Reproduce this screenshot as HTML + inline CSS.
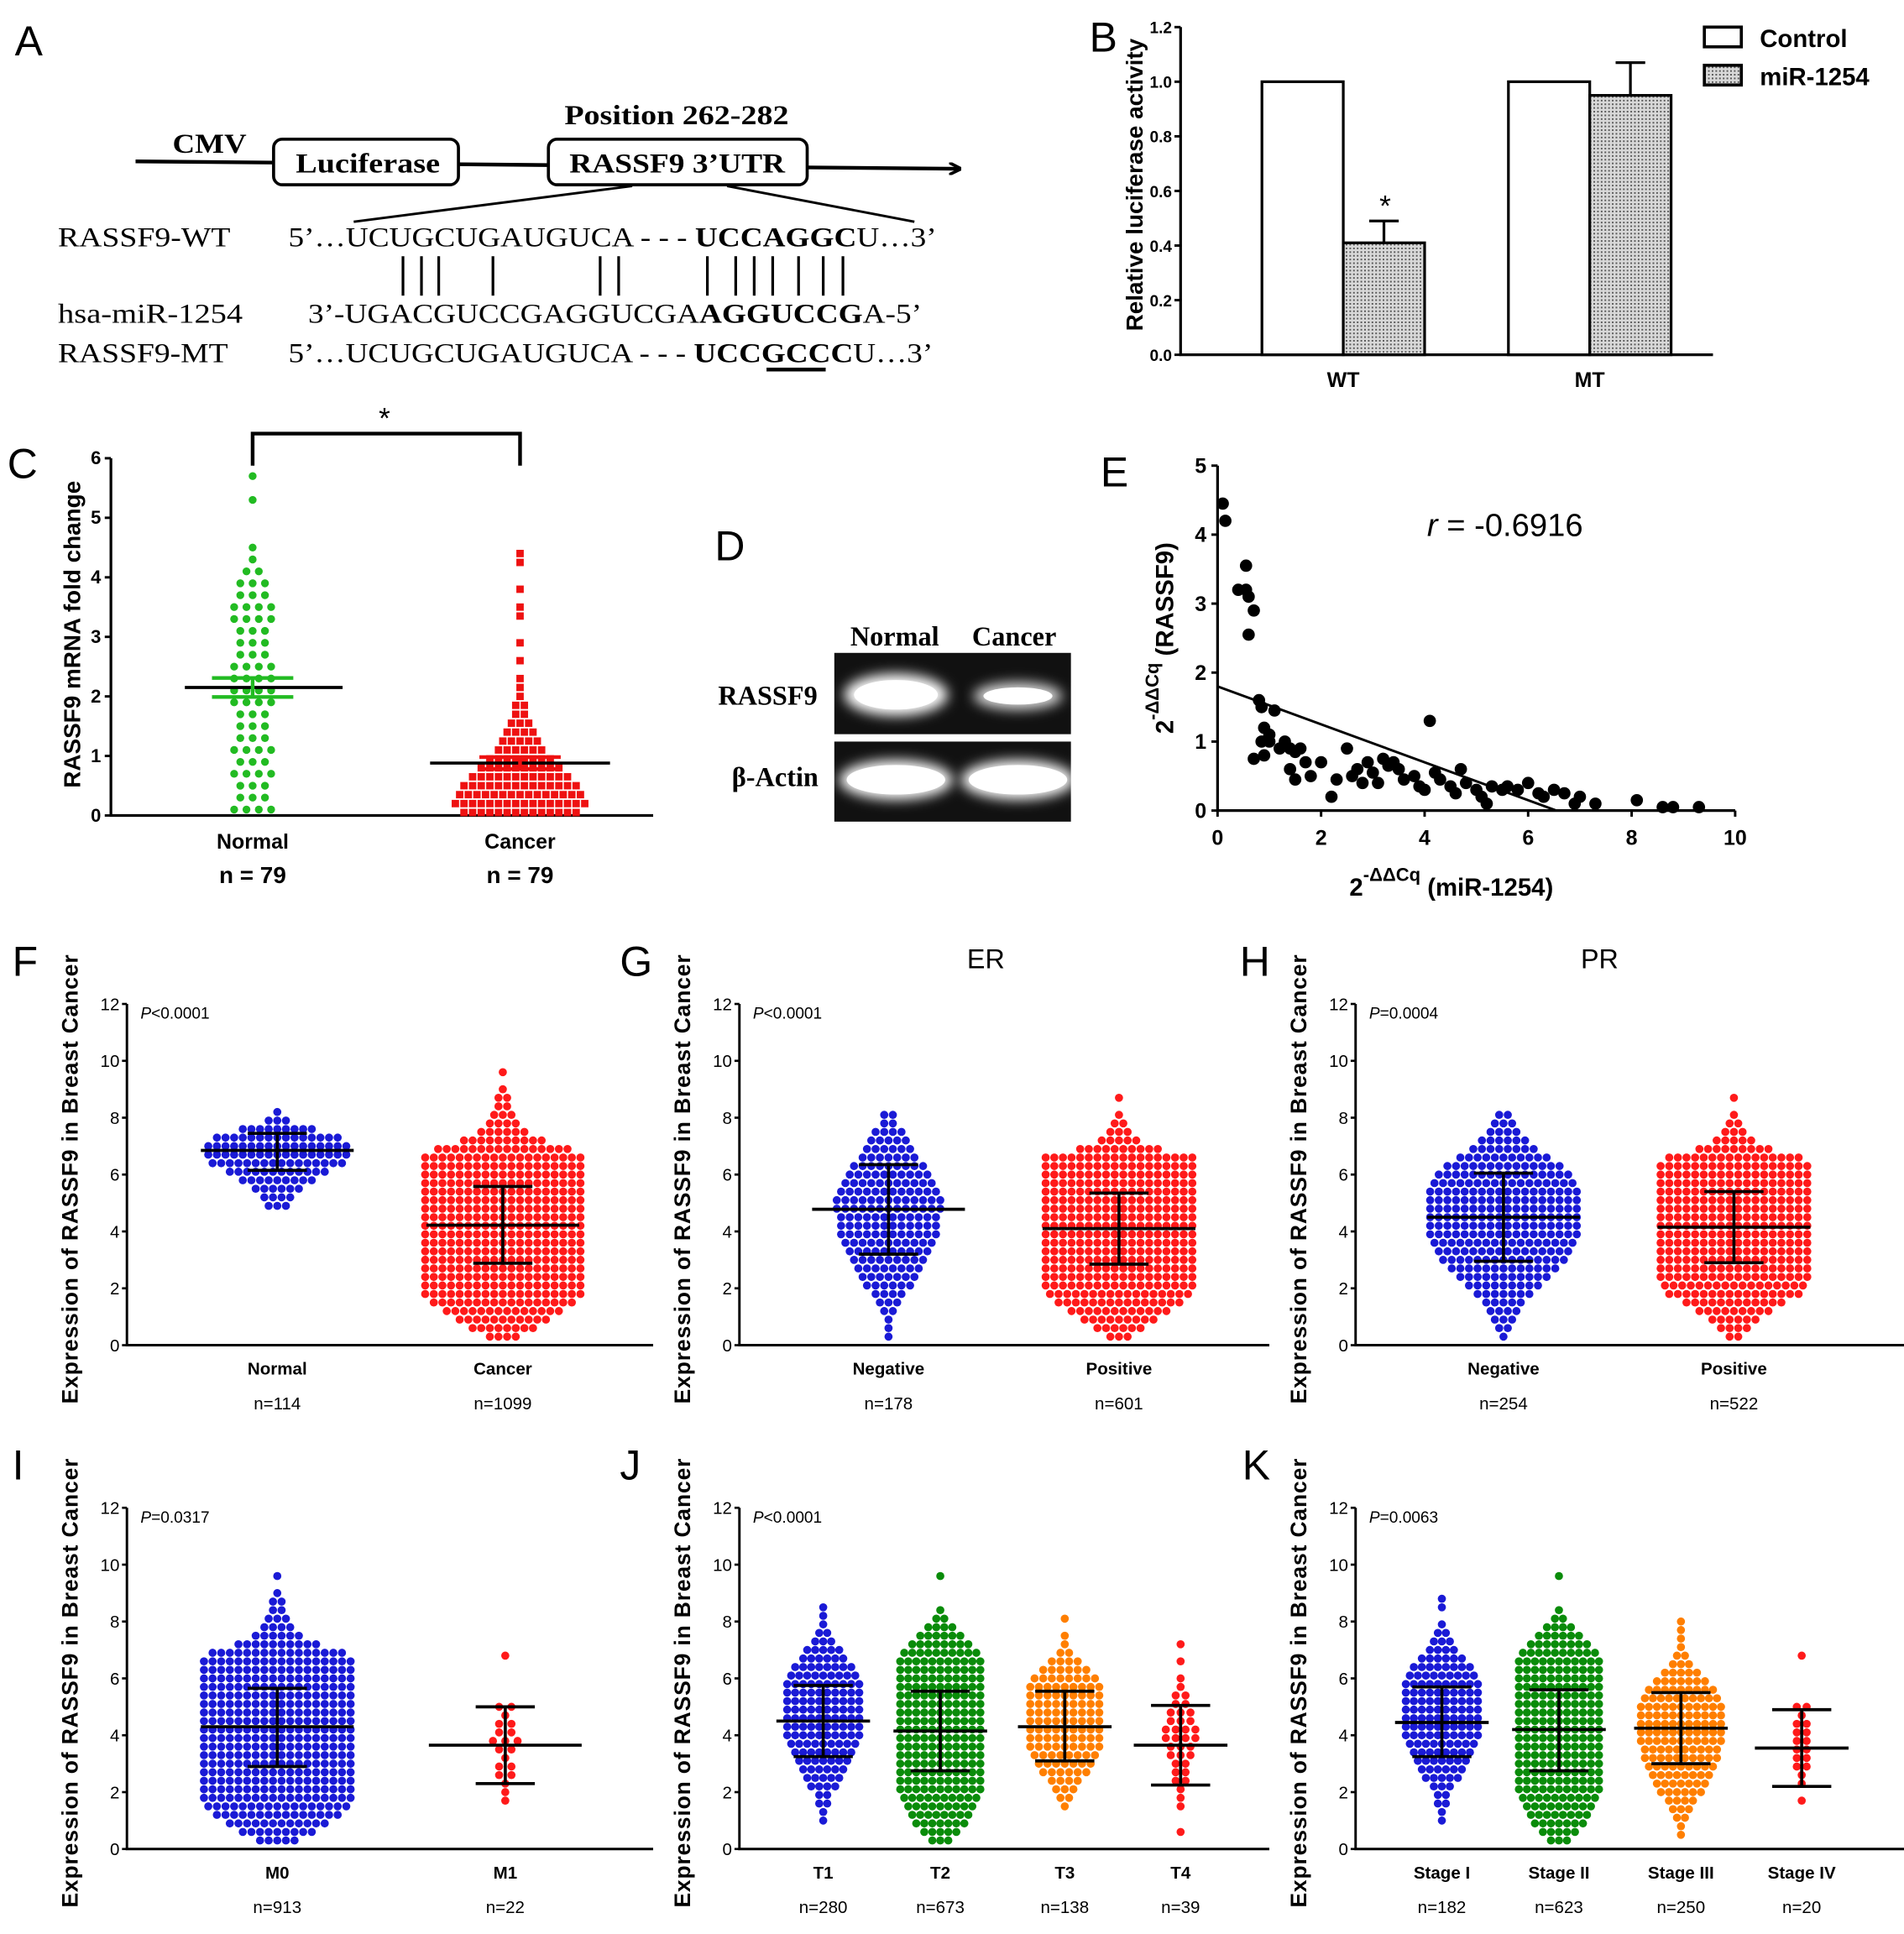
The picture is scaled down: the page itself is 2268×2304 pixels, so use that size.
<!DOCTYPE html>
<html><head><meta charset="utf-8"><style>
html,body{margin:0;padding:0;background:#fff}
svg{display:block}
text{font-family:"Liberation Sans",sans-serif}
.ser{font-family:"Liberation Serif",serif}
</style></head><body>
<svg id="fig" xmlns="http://www.w3.org/2000/svg" width="2268" height="2304" viewBox="0 0 1545 1570" preserveAspectRatio="none">
<defs>
<pattern id="dots" width="3" height="3" patternUnits="userSpaceOnUse"><rect width="3" height="3" fill="#d8d8d8"/><rect width="1.3" height="1.3" fill="#555"/></pattern>
<filter id="blur" x="-30%" y="-60%" width="160%" height="220%"><feGaussianBlur stdDeviation="5"/></filter>
<marker id="arr" markerWidth="10" markerHeight="10" refX="8" refY="5" orient="auto" markerUnits="userSpaceOnUse"><path d="M0,0 L10,5 L0,10" fill="none" stroke="#000" stroke-width="2.5"/></marker>
</defs>
<!-- Panel A -->
<g>
<text x="12" y="45" font-size="34">A</text>
<line x1="110" y1="131" x2="778" y2="137" stroke="#000" stroke-width="3" marker-end="url(#arr)"/>
<text class="ser" x="140" y="124" font-size="22" font-weight="bold" textLength="60" lengthAdjust="spacingAndGlyphs">CMV</text>
<rect x="222" y="113" width="150" height="37" rx="7" fill="#fff" stroke="#000" stroke-width="2.5"/>
<text class="ser" x="240" y="140" font-size="22" font-weight="bold" textLength="117" lengthAdjust="spacingAndGlyphs">Luciferase</text>
<rect x="445" y="113" width="210" height="37" rx="7" fill="#fff" stroke="#000" stroke-width="2.5"/>
<text class="ser" x="462" y="140" font-size="22" font-weight="bold" textLength="175" lengthAdjust="spacingAndGlyphs">RASSF9 3’UTR</text>
<text class="ser" x="458" y="101" font-size="22" font-weight="bold" textLength="182" lengthAdjust="spacingAndGlyphs">Position 262-282</text>
<line x1="513" y1="151" x2="287" y2="180" stroke="#000" stroke-width="2"/>
<line x1="590" y1="151" x2="742" y2="180" stroke="#000" stroke-width="2"/>
<g fill="#000">
<text class="ser" x="47" y="200" font-size="22" textLength="140" lengthAdjust="spacingAndGlyphs">RASSF9-WT</text>
<text class="ser" x="234" y="200" font-size="22" textLength="526" lengthAdjust="spacingAndGlyphs">5’…UCUGCUGAUGUCA - - - <tspan font-weight="bold">UCCAGGC</tspan>U…3’</text>
<text class="ser" x="47" y="262" font-size="22" textLength="150" lengthAdjust="spacingAndGlyphs">hsa-miR-1254</text>
<text class="ser" x="250" y="262" font-size="22" textLength="498" lengthAdjust="spacingAndGlyphs">3’-UGACGUCCGAGGUCGA<tspan font-weight="bold">AGGUCCG</tspan>A-5’</text>
<text class="ser" x="47" y="294" font-size="22" textLength="138" lengthAdjust="spacingAndGlyphs">RASSF9-MT</text>
<text class="ser" x="234" y="294" font-size="22" textLength="523" lengthAdjust="spacingAndGlyphs">5’…UCUGCUGAUGUCA - - - <tspan font-weight="bold">UCCGCCC</tspan>U…3’</text>
</g>
<g stroke="#000" stroke-width="2.2">
<line x1="327" y1="208" x2="327" y2="240"/><line x1="342" y1="208" x2="342" y2="240"/><line x1="356" y1="208" x2="356" y2="240"/><line x1="400" y1="208" x2="400" y2="240"/><line x1="487" y1="208" x2="487" y2="240"/><line x1="502" y1="208" x2="502" y2="240"/><line x1="574" y1="208" x2="574" y2="240"/><line x1="597" y1="208" x2="597" y2="240"/><line x1="612" y1="208" x2="612" y2="240"/><line x1="627" y1="208" x2="627" y2="240"/><line x1="648" y1="208" x2="648" y2="240"/><line x1="668" y1="208" x2="668" y2="240"/><line x1="684" y1="208" x2="684" y2="240"/>
</g>
<line x1="622" y1="300" x2="670" y2="300" stroke="#000" stroke-width="3"/>
</g>
<!-- Panel D -->
<g>
<text x="580" y="455" font-size="34">D</text>
<text class="ser" x="726" y="524" font-size="22" font-weight="bold" text-anchor="middle">Normal</text>
<text class="ser" x="823" y="524" font-size="22" font-weight="bold" text-anchor="middle">Cancer</text>
<text class="ser" x="623" y="572" font-size="22" font-weight="bold" text-anchor="middle">RASSF9</text>
<text class="ser" x="629" y="638" font-size="22" font-weight="bold" text-anchor="middle">β-Actin</text>
<rect x="677" y="530" width="192" height="66" fill="#111"/>
<rect x="677" y="602" width="192" height="65" fill="#111"/>
<ellipse cx="727" cy="564" rx="42" ry="17" fill="#fff" filter="url(#blur)"/>
<ellipse cx="727" cy="564" rx="34" ry="12" fill="#fff"/>
<ellipse cx="826" cy="565" rx="36" ry="11" fill="#ddd" filter="url(#blur)"/>
<ellipse cx="826" cy="565" rx="28" ry="7" fill="#fff"/>
<ellipse cx="727" cy="633" rx="46" ry="16" fill="#fff" filter="url(#blur)"/>
<ellipse cx="727" cy="633" rx="40" ry="12" fill="#fff"/>
<ellipse cx="826" cy="633" rx="46" ry="16" fill="#fff" filter="url(#blur)"/>
<ellipse cx="826" cy="633" rx="40" ry="12" fill="#fff"/>
</g>
<g id="dyn"></g>
</svg>
<script>
// ---------- Panel B data ----------
const bGroups = ['WT','MT'];
const bControl = [1.0, 1.0];
const bMir = [0.41, 0.95];
const bMirErr = [0.08, 0.12];
const bTicks = [0,0.2,0.4,0.6,0.8,1.0,1.2];
// ---------- Panel C data ----------
const cGroups = ['Normal','Cancer'];
const cN = ['n = 79','n = 79'];
const cMean = [2.15, 0.88];
const cSem = [0.16, 0.1];
const cNormalStart = 0.1;
const cNormalCounts = [4,3,3,4,3,4,3,3,3,4,4,4,4,3,3,3,4,4,3,3,2,1,1,0,0,0,1,0,1];
const cCancerStart = 0.05;
const cCancerCounts = [14,16,15,14,12,10,8,6,5,4,3,2,2,1,1,1,0,1,0,1,0,0,1,1,0,1,0,0,1,1];
const cTicks = [0,1,2,3,4,5,6];
// ---------- Panel E data ----------
const eX = [0.1,0.15,0.4,0.55,0.55,0.7,0.6,0.6,0.8,0.85,0.9,1.0,1.1,0.85,0.9,1.0,1.2,1.3,1.4,1.5,1.6,1.4,1.7,1.8,2.0,2.2,1.5,2.5,2.6,2.7,2.8,2.9,3.0,3.2,3.3,3.4,3.5,3.6,3.8,3.9,4.0,4.1,4.2,4.3,4.5,4.6,4.7,4.8,5.0,5.1,5.2,5.3,5.5,5.6,5.8,6.0,6.2,6.3,6.5,6.7,6.9,7.0,7.3,8.1,8.6,8.8,9.3,0.7,2.3,3.1];
const eY = [4.45,4.2,3.2,3.2,3.55,2.9,3.1,2.55,1.6,1.5,1.2,1.0,1.45,1.0,0.8,1.1,0.9,1.0,0.9,0.85,0.9,0.6,0.7,0.5,0.7,0.2,0.45,0.9,0.5,0.6,0.4,0.7,0.55,0.75,0.65,0.7,0.6,0.45,0.5,0.35,0.3,1.3,0.55,0.45,0.35,0.25,0.6,0.4,0.3,0.2,0.1,0.35,0.3,0.35,0.3,0.4,0.25,0.2,0.3,0.25,0.1,0.2,0.1,0.15,0.05,0.05,0.05,0.75,0.45,0.4];
const eFit = [1.8, -0.275];
const eXTicks = [0,2,4,6,8,10];
const eYTicks = [0,1,2,3,4,5];
// ---------- Panels F-K data ----------
const swTicks = [0,2,4,6,8,10,12];
const fCats = ['Normal','Cancer']; const fN = ['n=114','n=1099'];
const fStart = [4.9, 0.3];
const fCounts0 = [3,4,6,9,12,16,17,17,15,9,3,1];
const fCounts1 = [4,8,11,14,17,19,19,19,19,19,19,19,19,19,19,19,19,19,19,19,19,19,16,10,6,4,3,2,2,1,0,1];
const fMean = [6.85, 4.22]; const fLo = [6.15, 2.88]; const fHi = [7.45, 5.58];
const gCats = ['Negative','Positive']; const gN = ['n=178','n=601'];
const gStart = [0.3, 0.3];
const gCounts0 = [1,1,1,2,3,4,6,7,8,9,10,11,12,12,12,13,13,12,11,10,9,7,6,5,4,2,2];
const gCounts1 = [3,6,9,12,15,17,18,18,18,18,18,18,18,18,18,18,18,18,18,18,18,18,10,5,3,2,1,0,1];
const gMean = [4.78, 4.1]; const gLo = [3.2, 2.85]; const gHi = [6.35, 5.35];
const hCats = ['Negative','Positive']; const hN = ['n=254','n=522'];
const hStart = [0.3, 0.3];
const hCounts0 = [1,2,3,4,5,7,9,11,13,15,16,17,18,18,18,18,18,18,17,16,14,11,8,6,4,3,2];
const hCounts1 = [2,4,6,9,12,16,17,18,18,18,18,18,18,18,18,18,18,18,18,18,18,16,9,5,3,2,1,0,1];
const hMean = [4.5, 4.15]; const hLo = [2.95, 2.9]; const hHi = [6.05, 5.4];
const iCats = ['M0','M1']; const iN = ['n=913','n=22'];
const iStart = [0.3, 1.7];
const iCounts0 = [5,9,12,15,17,18,18,18,18,18,18,18,18,18,18,18,18,18,18,18,18,18,16,10,6,4,3,2,2,1,0,1];
const iCounts1 = [1,1,1,2,2,1,2,3,2,2,1,2,0,0,0,0,0,1];
const iMean = [4.3, 3.65]; const iLo = [2.9, 2.3]; const iHi = [5.65, 5.0];
const jCats = ['T1','T2','T3','T4']; const jN = ['n=280','n=673','n=138','n=39'];
const jStart = [1.0, 0.3, 1.5, 0.6];
const jCounts0 = [1,1,2,2,4,5,6,7,8,9,10,10,10,10,10,10,10,9,8,6,5,3,2,1,1,1];
const jCounts1 = [3,5,7,8,9,10,11,11,11,11,11,11,11,11,11,11,11,11,11,11,11,11,10,8,6,4,2,1,0,0,0,1];
const jCounts2 = [1,2,3,4,6,7,8,9,9,9,9,9,9,9,9,8,6,4,2,1,1,0,1];
const jCounts3 = [1,0,0,1,1,1,2,2,2,3,3,4,4,3,3,2,2,1,1,0,1,0,1];
const jMean = [4.5, 4.15, 4.3, 3.65]; const jLo = [3.25, 2.75, 3.1, 2.25]; const jHi = [5.75, 5.55, 5.55, 5.05];
const kCats = ['Stage I','Stage II','Stage III','Stage IV']; const kN = ['n=182','n=623','n=250','n=20'];
const kStart = [1.0, 0.3, 0.5, 1.7];
const kCounts0 = [1,1,2,2,3,5,6,7,8,9,10,10,10,10,10,10,10,9,8,6,4,3,2,1,0,1,1];
const kCounts1 = [3,5,7,8,9,10,11,11,11,11,11,11,11,11,11,11,11,11,11,11,11,11,10,8,6,4,2,1,0,0,0,1];
const kCounts2 = [1,1,2,3,4,6,7,8,9,10,10,11,11,11,11,11,10,9,7,5,3,2,1,1,1,1];
const kCounts3 = [1,0,1,1,2,2,2,2,2,2,1,2,0,0,0,0,0,1];
const kMean = [4.45, 4.2, 4.25, 3.55]; const kLo = [3.25, 2.75, 3.0, 2.2]; const kHi = [5.7, 5.6, 5.5, 4.9];

const NS='http://www.w3.org/2000/svg';
const root=document.getElementById('dyn');
function mk(tag,attrs,parent){const e=document.createElementNS(NS,tag);for(const k in attrs)e.setAttribute(k,attrs[k]);(parent||root).appendChild(e);return e;}
function txt(s,attrs,parent){const e=mk('text',attrs,parent);e.textContent=s;return e;}

// ===== Panel B =====
(function(){
  const g=mk('g',{});
  
  
  const x0=958,xEnd=1390,yB=288,yT=22;
  const y=v=>yB-(v/1.2)*(yB-yT);
  const lb=txt('B',{x:884,y:42,'font-size':34},g);
  
  
  const ax=mk('path',{d:`M${x0},${yT} V${yB} H${xEnd}`,fill:'none',stroke:'#000','stroke-width':2.2},g);
  
  
  bTicks.forEach(t=>{
    mk('line',{x1:x0-5,x2:x0,y1:y(t),y2:y(t),stroke:'#000','stroke-width':2},g);
    const tl=txt(t.toFixed(1),{x:x0-7,y:y(t)+5,'font-size':13,'font-weight':'bold','text-anchor':'end'},g);
    
    
  });
  const yt=txt('Relative luciferase activity',{x:0,y:0,'font-size':19,'font-weight':'bold','text-anchor':'middle',transform:`translate(927,150) rotate(-90)`},g);
  
  
  const centers=[1090,1290], bw=66;
  bGroups.forEach((name,i)=>{
    const c=centers[i];
    const b1=mk('rect',{x:c-bw,y:y(bControl[i]),width:bw,height:yB-y(bControl[i]),fill:'#fff',stroke:'#000','stroke-width':2.2},g);
    
    
    const top=y(bMir[i]+bMirErr[i]);
    mk('line',{x1:c+bw/2,x2:c+bw/2,y1:y(bMir[i]),y2:top,stroke:'#000','stroke-width':2.2},g);
    mk('line',{x1:c+bw/2-12,x2:c+bw/2+12,y1:top,y2:top,stroke:'#000','stroke-width':2.2},g);
    const b2=mk('rect',{x:c,y:y(bMir[i]),width:bw,height:yB-y(bMir[i]),fill:'url(#dots)',stroke:'#000','stroke-width':2.2},g);
    
    
    const xl=txt(name,{x:c,y:314,'font-size':17,'font-weight':'bold','text-anchor':'middle'},g);
    
    
  });
  const st=txt('*',{x:1124,y:y(bMir[0]+bMirErr[0])-4,'font-size':24,'text-anchor':'middle'},g);
  
  
  const l1=mk('rect',{x:1383,y:22,width:30,height:16,fill:'#fff',stroke:'#000','stroke-width':2.5},g);
  
  
  const lt1=txt('Control',{x:1428,y:38,'font-size':20,'font-weight':'bold'},g);
  
  
  const l2=mk('rect',{x:1383,y:53,width:30,height:16,fill:'url(#dots)',stroke:'#000','stroke-width':2.5},g);
  
  
  const lt2=txt('miR-1254',{x:1428,y:69,'font-size':20,'font-weight':'bold'},g);
  
  
})();

// ===== Panel C =====
(function(){
  const g=mk('g',{});
  
  
  const x0=90,xEnd=530,yB=662,yT=372;
  const y=v=>yB-(v/6)*(yB-yT);
  const lb=txt('C',{x:6,y:388,'font-size':34},g);
  
  
  const ax=mk('path',{d:`M${x0},${yT} V${yB} H${xEnd}`,fill:'none',stroke:'#000','stroke-width':2.2},g);
  
  
  cTicks.forEach(t=>{
    mk('line',{x1:x0-5,x2:x0,y1:y(t),y2:y(t),stroke:'#000','stroke-width':2},g);
    const tl=txt(String(t),{x:x0-8,y:y(t)+5,'font-size':15,'font-weight':'bold','text-anchor':'end'},g);
    
    
  });
  const yt=txt('RASSF9 mRNA fold change',{x:0,y:0,'font-size':19,'font-weight':'bold','text-anchor':'middle',transform:'translate(65,515) rotate(-90)'},g);
  
  
  const centers=[205,422];
  const cols=['#22bb22','#ee1111'];
  cNormalCounts.forEach((n,i)=>{const v=cNormalStart+i*0.2;for(let k=0;k<n;k++){
    const d=mk('circle',{cx:centers[0]+(k-(n-1)/2)*10,cy:y(v),r:3.2,fill:cols[0]},g);
    
    }});
  cCancerCounts.forEach((n,i)=>{const v=cCancerStart+i*0.15;for(let k=0;k<n;k++){
    const d=mk('rect',{x:centers[1]+(k-(n-1)/2)*7-3,y:y(v)-3,width:6,height:6,fill:cols[1]},g);
    
    }});
  cGroups.forEach((name,i)=>{
    const c=centers[i];
    const m=mk('line',{x1:c-55-(i?18:0),x2:c+73,y1:y(cMean[i]),y2:y(cMean[i]),stroke:'#000','stroke-width':2.5},g);
    
    
    [cMean[i]-cSem[i],cMean[i]+cSem[i]].forEach(v=>{mk('line',{x1:c-33,x2:c+33,y1:y(v),y2:y(v),stroke:cols[i],'stroke-width':3},g);});
    mk('line',{x1:c,x2:c,y1:y(cMean[i]-cSem[i]),y2:y(cMean[i]+cSem[i]),stroke:cols[i],'stroke-width':3},g);
    const xl=txt(name,{x:c,y:689,'font-size':17,'font-weight':'bold','text-anchor':'middle'},g);
    
    
    const nl=txt(cN[i],{x:c,y:717,'font-size':19,'font-weight':'bold','text-anchor':'middle'},g);
    
    
  });
  const br=mk('path',{d:`M${centers[0]},378 V352 H${centers[1]} V378`,fill:'none',stroke:'#000','stroke-width':3},g);
  
  
  const st=txt('*',{x:312,y:348,'font-size':24,'text-anchor':'middle'},g);
  
  
})();

// ===== Panel E =====
(function(){
  const g=mk('g',{});
  
  
  const x0=988,x1=1408,yB=658,yT=378;
  const X=v=>x0+v/10*(x1-x0), Y=v=>yB-v/5*(yB-yT);
  const lb=txt('E',{x:893,y:395,'font-size':34},g);
  
  
  const ax=mk('path',{d:`M${x0},${yT} V${yB} H${x1}`,fill:'none',stroke:'#000','stroke-width':2.2},g);
  
  
  eYTicks.forEach(t=>{mk('line',{x1:x0-5,x2:x0,y1:Y(t),y2:Y(t),stroke:'#000','stroke-width':2},g);
    const tl=txt(String(t),{x:x0-9,y:Y(t)+6,'font-size':17,'font-weight':'bold','text-anchor':'end'},g);
    
    });
  eXTicks.forEach(t=>{mk('line',{x1:X(t),x2:X(t),y1:yB,y2:yB+5,stroke:'#000','stroke-width':2},g);
    const tl=txt(String(t),{x:X(t),y:yB+28,'font-size':17,'font-weight':'bold','text-anchor':'middle'},g);
    
    });
  const xEnd=-eFit[0]/eFit[1];
  const fl=mk('line',{x1:X(0),y1:Y(eFit[0]),x2:X(xEnd),y2:Y(0),stroke:'#000','stroke-width':2},g);
  
  
  eX.forEach((v,i)=>{const p=mk('circle',{cx:X(v),cy:Y(eY[i]),r:5,fill:'#000'},g);
    
    });
  const r=txt('',{x:1158,y:435,'font-size':26},g);
  r.innerHTML='<tspan font-style="italic">r</tspan> = -0.6916';
  
  
  const xt=txt('',{x:1095,y:727,'font-size':20,'font-weight':'bold'},g);
  xt.innerHTML='2<tspan dy="-12" font-size="15">-ΔΔCq</tspan><tspan dy="12"> (miR-1254)</tspan>';
  
  
  const yt=txt('',{x:0,y:0,'font-size':20,'font-weight':'bold','text-anchor':'middle',transform:'translate(952,518) rotate(-90)'},g);
  yt.innerHTML='2<tspan dy="-12" font-size="15">-ΔΔCq</tspan><tspan dy="12">   (RASSF9)</tspan>';
  
  
})();

// ===== Panels F-K =====
const BLUE='#1a1ad6',RED='#ff1a1a',GREEN='#0a8c0a',ORANGE='#ff7f00';
function swarmPanel(o){
  const g=mk('g',{});
  
  
  const y=v=>o.yB-(v/12)*(o.yB-o.yT);
  const lb=txt(o.id,{x:o.lx,y:o.yT-23,'font-size':34},g);
  
  
  if(o.title){const t=txt(o.title,{x:o.tx,y:o.yT-29,'font-size':22,'text-anchor':'middle'},g);
    
    }
  const ax=mk('path',{d:`M${o.x0},${o.yT} V${o.yB} H${o.x1}`,fill:'none',stroke:'#000','stroke-width':2},g);
  
  
  swTicks.forEach(t=>{mk('line',{x1:o.x0-4,x2:o.x0,y1:y(t),y2:y(t),stroke:'#000','stroke-width':1.8},g);
    const tl=txt(String(t),{x:o.x0-6,y:y(t)+5,'font-size':14,'text-anchor':'end'},g);
    
    });
  const yt=txt('Expression of RASSF9 in Breast Cancer',{x:0,y:0,'font-size':18,'font-weight':'bold','text-anchor':'middle','letter-spacing':'0.6',transform:`translate(${o.x0-40},${o.yB-135}) rotate(-90)`},g);
  
  
  const p=txt('',{x:o.x0+11,y:o.yT+12,'font-size':13},g);
  p.innerHTML='<tspan font-style="italic">P</tspan>'+o.p;
  
  
  o.cats.forEach((name,i)=>{
    const c=o.centers[i], counts=o.counts[i], sp=o.sp[i];
    counts.forEach((n,r)=>{const v=o.start[i]+r*0.3;for(let k=0;k<n;k++){
      const d=mk('circle',{cx:c+(k-(n-1)/2)*sp,cy:y(v),r:3.3,fill:o.colors[i]},g);
      
      }});
    const mw=o.mw[i];
    const ml=mk('line',{x1:c-mw,x2:c+mw,y1:y(o.mean[i]),y2:y(o.mean[i]),stroke:'#000','stroke-width':2.5},g);
    
    
    const el=mk('path',{d:`M${c-24},${y(o.lo[i])} H${c+24} M${c-24},${y(o.hi[i])} H${c+24} M${c},${y(o.lo[i])} V${y(o.hi[i])}`,fill:'none',stroke:'#000','stroke-width':2.5},g);
    
    
    const xl=txt(name,{x:c,y:o.yB+24,'font-size':14,'font-weight':'bold','text-anchor':'middle'},g);
    
    
    const nl=txt(o.n[i],{x:c,y:o.yB+52,'font-size':14,'text-anchor':'middle'},g);
    
    
  });
}
const R1=[815,1092], R2=[1224,1501];
swarmPanel({id:'F',lx:10,x0:103,x1:530,yT:R1[0],yB:R1[1],p:'<0.0001',cats:fCats,n:fN,centers:[225,408],counts:[fCounts0,fCounts1],start:fStart,sp:[7,7],colors:[BLUE,RED],mean:fMean,lo:fLo,hi:fHi,mw:[62,62]});
swarmPanel({id:'G',lx:503,x0:600,x1:1030,yT:R1[0],yB:R1[1],title:'ER',tx:800,p:'<0.0001',cats:gCats,n:gN,centers:[721,908],counts:[gCounts0,gCounts1],start:gStart,sp:[7,7],colors:[BLUE,RED],mean:gMean,lo:gLo,hi:gHi,mw:[62,62]});
swarmPanel({id:'H',lx:1006,x0:1100,x1:1545,yT:R1[0],yB:R1[1],title:'PR',tx:1298,p:'=0.0004',cats:hCats,n:hN,centers:[1220,1407],counts:[hCounts0,hCounts1],start:hStart,sp:[7,7],colors:[BLUE,RED],mean:hMean,lo:hLo,hi:hHi,mw:[62,62]});
swarmPanel({id:'I',lx:10,x0:103,x1:530,yT:R2[0],yB:R2[1],p:'=0.0317',cats:iCats,n:iN,centers:[225,410],counts:[iCounts0,iCounts1],start:iStart,sp:[7,10],colors:[BLUE,RED],mean:iMean,lo:iLo,hi:iHi,mw:[62,62]});
swarmPanel({id:'J',lx:503,x0:600,x1:1030,yT:R2[0],yB:R2[1],p:'<0.0001',cats:jCats,n:jN,centers:[668,763,864,958],counts:[jCounts0,jCounts1,jCounts2,jCounts3],start:jStart,sp:[6.5,6.5,7,8],colors:[BLUE,GREEN,ORANGE,RED],mean:jMean,lo:jLo,hi:jHi,mw:[38,38,38,38]});
swarmPanel({id:'K',lx:1008,x0:1100,x1:1545,yT:R2[0],yB:R2[1],p:'=0.0063',cats:kCats,n:kN,centers:[1170,1265,1364,1462],counts:[kCounts0,kCounts1,kCounts2,kCounts3],start:kStart,sp:[6.5,6.5,6.5,8],colors:[BLUE,GREEN,ORANGE,RED],mean:kMean,lo:kLo,hi:kHi,mw:[38,38,38,38]});
</script>
</body></html>
